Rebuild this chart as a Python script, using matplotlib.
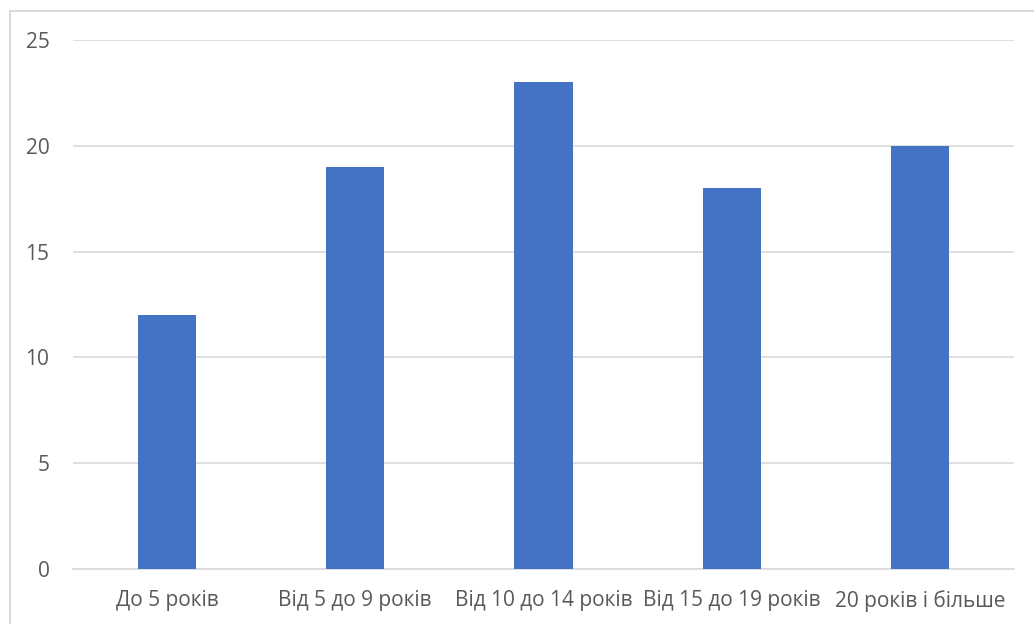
import matplotlib.pyplot as plt
from matplotlib.patches import Rectangle

categories = ["До 5 років", "Від 5 до 9 років", "Від 10 до 14 років",
              "Від 15 до 19 років", "20 років і більше"]
values = [12, 19, 23, 18, 20]
yticks = [0, 5, 10, 15, 20, 25]

plt.rcParams["font.family"] = ["Open Sans", "DejaVu Sans"]

fig = plt.figure(figsize=(10.34, 6.24), dpi=100)
ax = fig.add_axes([73 / 1034, 1 - 569 / 624, (1014 - 73) / 1034, (569 - 40) / 624])

# chart frame
fig.patches.append(Rectangle((9.5 / 1034, -0.1), 1.2, 1 - 10.5 / 624 + 0.1,
                             transform=fig.transFigure, fill=False,
                             edgecolor="#D9D9D9", linewidth=1.5))

x = range(len(categories))
ax.bar(x, values, width=0.31, color="#4472C4", zorder=3)

ax.set_xlim(-0.5, len(categories) - 0.5)
ax.set_ylim(0, 25)
ax.set_yticks(yticks)
ax.set_xticks(list(x))
ax.set_xticklabels(categories)
ax.yaxis.grid(True, color="#D9D9D9", linewidth=1.2, zorder=0)
for s in ["top", "right", "left"]:
    ax.spines[s].set_visible(False)
ax.spines["bottom"].set_color("#D9D9D9")
ax.spines["bottom"].set_linewidth(1.2)
ax.tick_params(axis="both", length=0, colors="#595959", labelsize=15)
ax.tick_params(axis="y", pad=17)
ax.tick_params(axis="x", pad=15)

fig.savefig("out.png", dpi=100)
